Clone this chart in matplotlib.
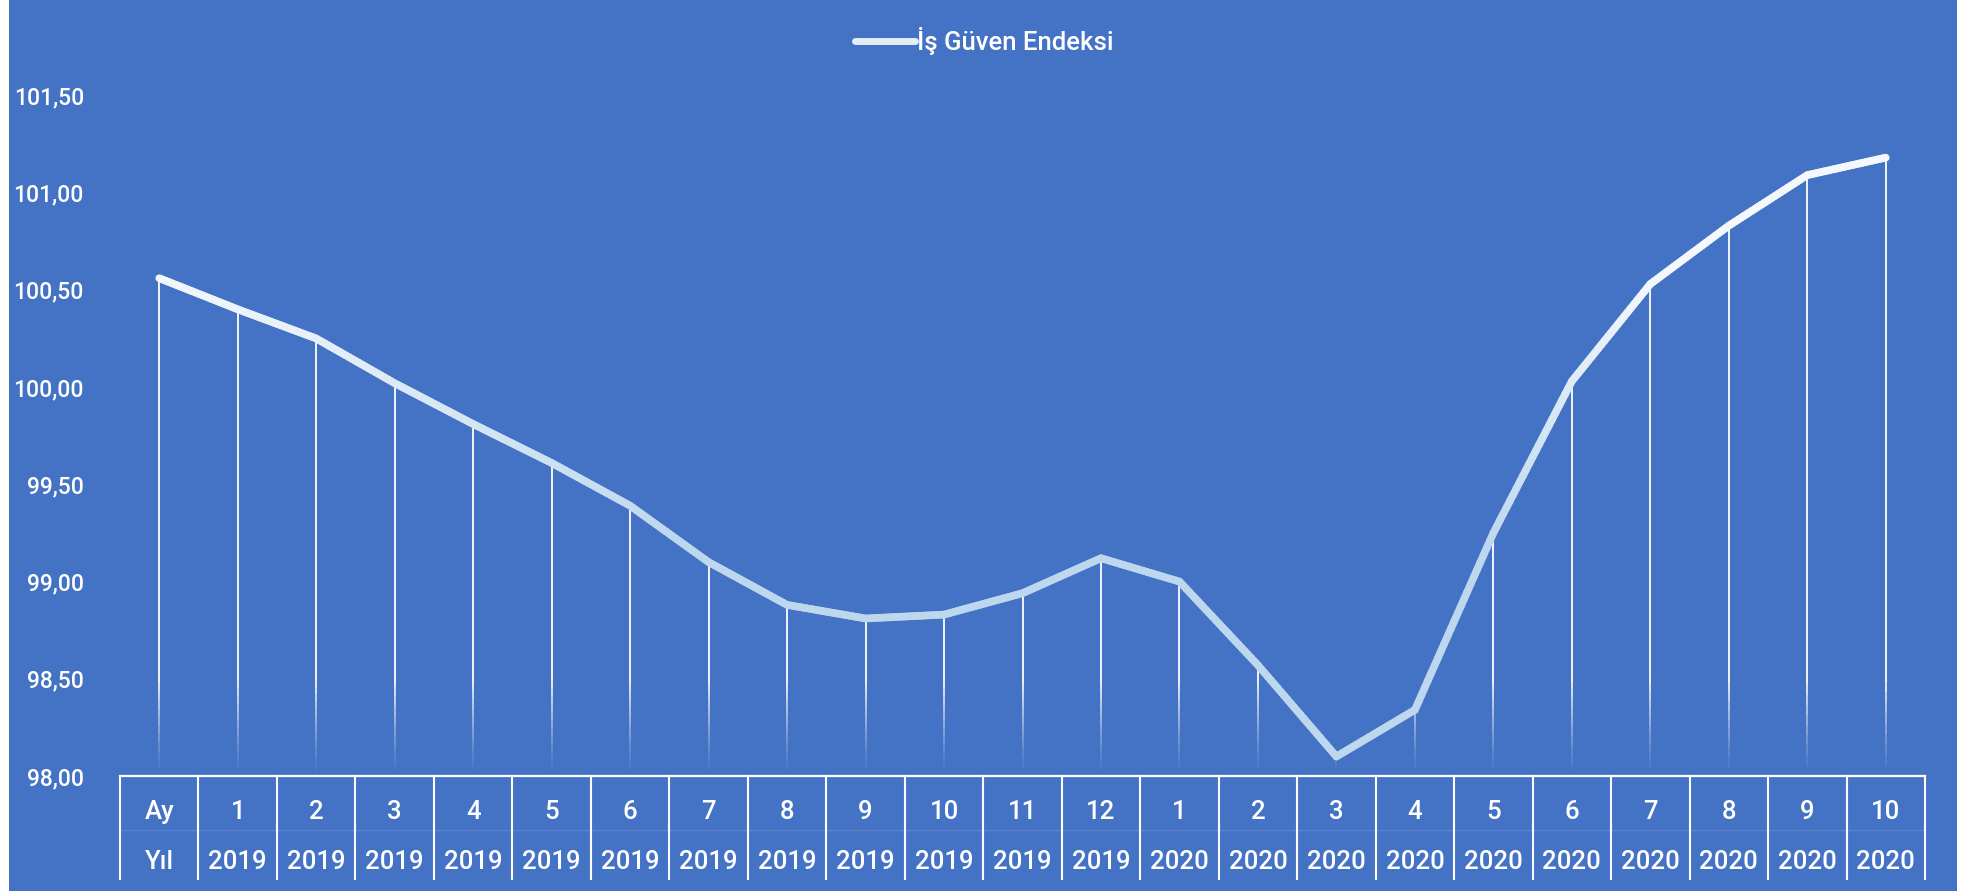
import matplotlib.pyplot as plt
import matplotlib.colors as mcolors
from matplotlib.collections import LineCollection
from matplotlib.lines import Line2D
from matplotlib.patches import Rectangle
import numpy as np

plt.rcParams['font.family'] = ['Roboto', 'DejaVu Sans']

# category rows (first column is the header that ended up in the series)
ay = ['Ay', '1', '2', '3', '4', '5', '6', '7', '8', '9', '10', '11', '12',
      '1', '2', '3', '4', '5', '6', '7', '8', '9', '10']
yil = ['Yıl'] + ['2019'] * 12 + ['2020'] * 10
endeks = [100.56, 100.40, 100.25, 100.02, 99.81, 99.61, 99.39, 99.10, 98.88,
          98.81, 98.83, 98.94, 99.12, 99.00, 98.57, 98.10, 98.34, 99.25,
          100.03, 100.53, 100.83, 101.09, 101.18]
yticks = [98.0, 98.5, 99.0, 99.5, 100.0, 100.5, 101.0, 101.5]

BG = '#4472C4'
W, H = 1969, 894
FS = 18.5

fig = plt.figure(figsize=(W / 100, H / 100), dpi=100, facecolor='white')
fig.patches.append(Rectangle((9 / W, 3 / H), (1957 - 9) / W, 891 / H,
                             transform=fig.transFigure, facecolor=BG,
                             edgecolor='none', zorder=-1))
ax = fig.add_axes([120 / W, 1 - 776 / H, (1925 - 120) / W, (776 - 95.4) / H])
ax.set_facecolor('none')
ax.set_xlim(-0.5, len(ay) - 0.5)
ax.set_ylim(98, 101.5)

x = np.arange(len(endeks), dtype=float)
y = np.array(endeks)

# main line, coloured by height (light blue low -> white high)
xs, ys = [], []
for i in range(len(x) - 1):
    t = np.linspace(0, 1, 24, endpoint=False)
    xs.extend(x[i] + t * (x[i + 1] - x[i]))
    ys.extend(y[i] + t * (y[i + 1] - y[i]))
xs.append(x[-1])
ys.append(y[-1])
pts = np.column_stack([xs, ys])
segs = np.stack([pts[:-1], pts[1:]], axis=1)
cmap = mcolors.LinearSegmentedColormap.from_list('g', ['#BDD7EE', '#F4F8FC'])
mid = (pts[:-1, 1] + pts[1:, 1]) / 2
lc = LineCollection(segs, colors=cmap(np.clip((mid - 99.2) / 1.4, 0, 1)),
                    linewidths=5.5, capstyle='round', joinstyle='round',
                    zorder=3, clip_on=False)
ax.add_collection(lc)

# drop lines fading out towards the axis
dsegs, dcols = [], []
for xi, yi in zip(x, y):
    lv = np.linspace(98, yi, 60)
    for a, b in zip(lv[:-1], lv[1:]):
        dsegs.append([(xi, a), (xi, b)])
        alpha = np.clip(((a + b) / 2 - 98.0) / 0.5, 0, 1) ** 1.3
        dcols.append((1, 1, 1, alpha))
ax.add_collection(LineCollection(dsegs, colors=dcols, linewidths=1.3,
                                 capstyle='butt', zorder=2))

# y axis
ax.set_yticks(yticks)
ax.set_yticklabels([f'{v:.2f}'.replace('.', ',') for v in yticks])
ax.tick_params(axis='y', length=0, pad=26, labelsize=16.5, colors='white')
for lb in ax.get_yticklabels():
    lb.set_fontweight('medium')
ax.set_xticks([])
for s in ['left', 'top', 'right']:
    ax.spines[s].set_visible(False)
ax.spines['bottom'].set_color('white')
ax.spines['bottom'].set_linewidth(1.6)

# two-row category table under the axis
tr = ax.get_xaxis_transform()
for k in range(len(ay) + 1):
    ax.plot([k - 0.5, k - 0.5], [0, -0.151], color='white', lw=1.5,
            transform=tr, clip_on=False)
ax.plot([-0.5, len(ay) - 0.5], [-0.079, -0.079], color='white', lw=1,
        alpha=0.12, transform=tr, clip_on=False)
for i, (m, yr) in enumerate(zip(ay, yil)):
    ax.text(i, -0.053, m, transform=tr, ha='center', va='center',
            color='white', fontsize=FS, fontweight='medium')
    ax.text(i, -0.127, yr, transform=tr, ha='center', va='center',
            color='white', fontsize=FS, fontweight='medium')

handle = Line2D([], [], color='#E4EEF9', lw=5, solid_capstyle='round')
fig.legend([handle], ['İş Güven Endeksi'], loc='center',
           bbox_to_anchor=(0.5, 1 - 41 / H), frameon=False,
           prop={'size': FS, 'weight': 'medium'},
           labelcolor='white', handlelength=2.3, handletextpad=0.1)

fig.savefig('out.png', dpi=100, facecolor=fig.get_facecolor())
